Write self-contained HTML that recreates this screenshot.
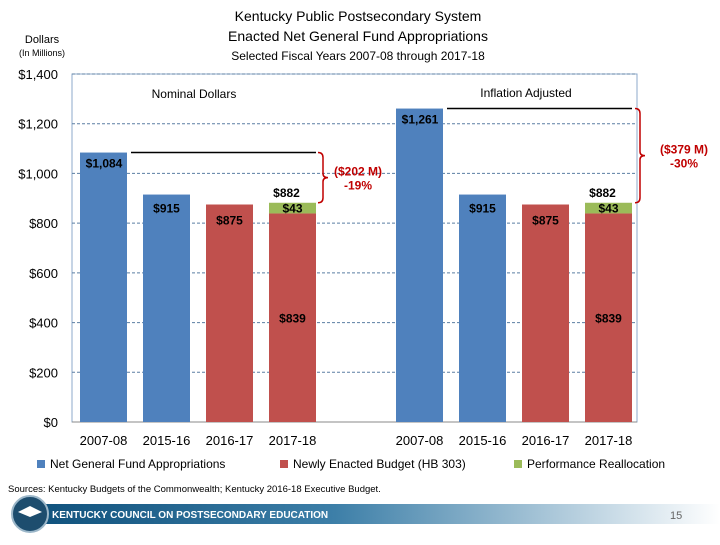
<!DOCTYPE html>
<html><head><meta charset="utf-8"><style>
body{margin:0;background:#fff;font-family:"Liberation Sans",sans-serif;}
svg text{font-family:"Liberation Sans",sans-serif;}
</style></head><body>
<svg width="720" height="540" viewBox="0 0 720 540" xmlns="http://www.w3.org/2000/svg">
<text x="358" y="21" text-anchor="middle" font-size="14">Kentucky Public Postsecondary System</text>
<text x="358" y="41" text-anchor="middle" font-size="14">Enacted Net General  Fund Appropriations</text>
<text x="358" y="60" text-anchor="middle" font-size="12">Selected Fiscal Years 2007-08 through 2017-18</text>
<text x="42" y="43" text-anchor="middle" font-size="11">Dollars</text>
<text x="42" y="56" text-anchor="middle" font-size="9">(In Millions)</text>
<rect x="72" y="74" width="565" height="348" fill="none" stroke="#8eaacb" stroke-width="1"/>
<g id="grid"></g><g id="bars"></g><g id="labels"></g>
<text x="194" y="98" text-anchor="middle" font-size="12">Nominal Dollars</text>
<text x="526" y="97" text-anchor="middle" font-size="12">Inflation Adjusted</text>
<g id="notes"></g>
<g font-size="12">
<rect x="37" y="460" width="8" height="8" fill="#4f81bd"/><text x="50" y="468">Net General Fund Appropriations</text>
<rect x="280" y="460" width="8" height="8" fill="#c0504d"/><text x="293" y="468">Newly Enacted Budget (HB 303)</text>
<rect x="514" y="460" width="8" height="8" fill="#9bbb59"/><text x="527" y="468">Performance Reallocation</text>
</g>
<text x="8" y="492" font-size="9.5">Sources: Kentucky Budgets of the Commonwealth; Kentucky 2016-18 Executive Budget.</text>
<defs><linearGradient id="fg" x1="0" x2="1"><stop offset="0" stop-color="#0d4f7a"/><stop offset="0.45" stop-color="#3d7fa8"/><stop offset="1" stop-color="#ffffff"/></linearGradient></defs>
<rect x="20" y="504" width="700" height="20" fill="url(#fg)"/>
<circle cx="30" cy="514" r="18" fill="#1d4d6e" stroke="#9cb7c9" stroke-width="2"/>
<path d="M18 512 L30 506 L42 512 L30 517 Z" fill="#fff"/>
<text x="52" y="518" font-size="10" font-weight="bold" fill="#fff">KENTUCKY COUNCIL ON POSTSECONDARY EDUCATION</text>
<text x="670" y="519" font-size="11" fill="#666">15</text>
</svg>
<script>
const categories=["2007-08","2015-16","2016-17","2017-18","2007-08","2015-16","2016-17","2017-18"];
const blueValues=[1084,915,0,0,1261,915,0,0];
const redValues=[0,0,875,839,0,0,875,839];
const greenValues=[0,0,0,43,0,0,0,43];
const yTicks=[0,200,400,600,800,1000,1200,1400];
const NS="http://www.w3.org/2000/svg";
function y(v){return 422-v*348/1400;}
function xc(i){return (i<4?80:396)+(i%4)*63;}
const W=47;
function mk(tag,attrs,parent){const e=document.createElementNS(NS,tag);for(const k in attrs)e.setAttribute(k,attrs[k]);document.getElementById(parent).appendChild(e);return e;}
function fmt(v){return "$"+v.toLocaleString("en-US");}
yTicks.forEach(t=>{
 if(t>0){const l=mk("line",{x1:72,x2:637,y1:y(t),y2:y(t),stroke:"#5b7fa3","stroke-dasharray":"3,2","stroke-width":1},"grid");
 
 }
 const tx=mk("text",{x:58,y:y(t)+5,"text-anchor":"end","font-size":13},"grid");tx.textContent="$"+t.toLocaleString("en-US");
 
 
});
mk("line",{x1:72,x2:637,y1:422,y2:422,stroke:"#888"},"grid");
categories.forEach((c,i)=>{
 const x=xc(i);
 const t=mk("text",{x:x+W/2,y:445,"text-anchor":"middle","font-size":13},"labels");t.textContent=c;
 
 
 if(blueValues[i]>0){const r=mk("rect",{x:x,y:y(blueValues[i]),width:W,height:422-y(blueValues[i]),fill:"#4f81bd"},"bars");
  
  
  const l=mk("text",{x:x+(blueValues[i]>1000?24:W/2),y:y(blueValues[i])+(blueValues[i]>1000?15:18),"text-anchor":"middle","font-size":12,"font-weight":"bold"},"labels");l.textContent=fmt(blueValues[i]);
  
  }
 if(redValues[i]>0){const r=mk("rect",{x:x,y:y(redValues[i]),width:W,height:422-y(redValues[i]),fill:"#c0504d"},"bars");
  
  
  const lbl=greenValues[i]>0?redValues[i]:redValues[i];
  const l=mk("text",{x:x+W/2,y:greenValues[i]>0?y(redValues[i]/2)+5:y(redValues[i])+20,"text-anchor":"middle","font-size":12,"font-weight":"bold"},"labels");l.textContent=fmt(lbl);
  
  }
 if(greenValues[i]>0){const top=redValues[i]+greenValues[i];
  const r=mk("rect",{x:x,y:y(top),width:W,height:y(redValues[i])-y(top),fill:"#9bbb59"},"bars");
  
  
  const g=mk("text",{x:x+W/2,y:y(redValues[i])-1,"text-anchor":"middle","font-size":12,"font-weight":"bold"},"labels");g.textContent=fmt(greenValues[i]);
  
  
  const t2=mk("text",{x:x+W/2-6,y:y(top)-6,"text-anchor":"middle","font-size":12,"font-weight":"bold"},"labels");t2.textContent=fmt(top);
  
  }
});
// reference lines and braces
function brace(i0,i3,label1,label2,bx,tx){
 const top=blueValues[i0],end=redValues[i3]+greenValues[i3];
 const l=mk("line",{x1:xc(i0)+W+4,x2:xc(i3)+W,y1:y(top),y2:y(top),stroke:"#000","stroke-width":1.5},"notes");
 
 
 const y1=y(top),y2=y(end),ym=(y1+y2)/2;
 const p=mk("path",{d:`M${bx} ${y1} q5 0 5 5 L${bx+5} ${ym-4} q0 4 5 4 q-5 0 -5 4 L${bx+5} ${y2-5} q0 5 -5 5`,fill:"none",stroke:"#c00000","stroke-width":1.5},"notes");
 
 
 const a=mk("text",{x:tx,y:ym-2,"text-anchor":"middle","font-size":12,"font-weight":"bold",fill:"#c00000"},"notes");a.textContent=label1;
 
 
 const b=mk("text",{x:tx,y:ym+12,"text-anchor":"middle","font-size":12,"font-weight":"bold",fill:"#c00000"},"notes");b.textContent=label2;
 
 
}
brace(0,3,"($202 M)","-19%",318,358);
brace(4,7,"($379 M)","-30%",635,684);
</script>
</body></html>
